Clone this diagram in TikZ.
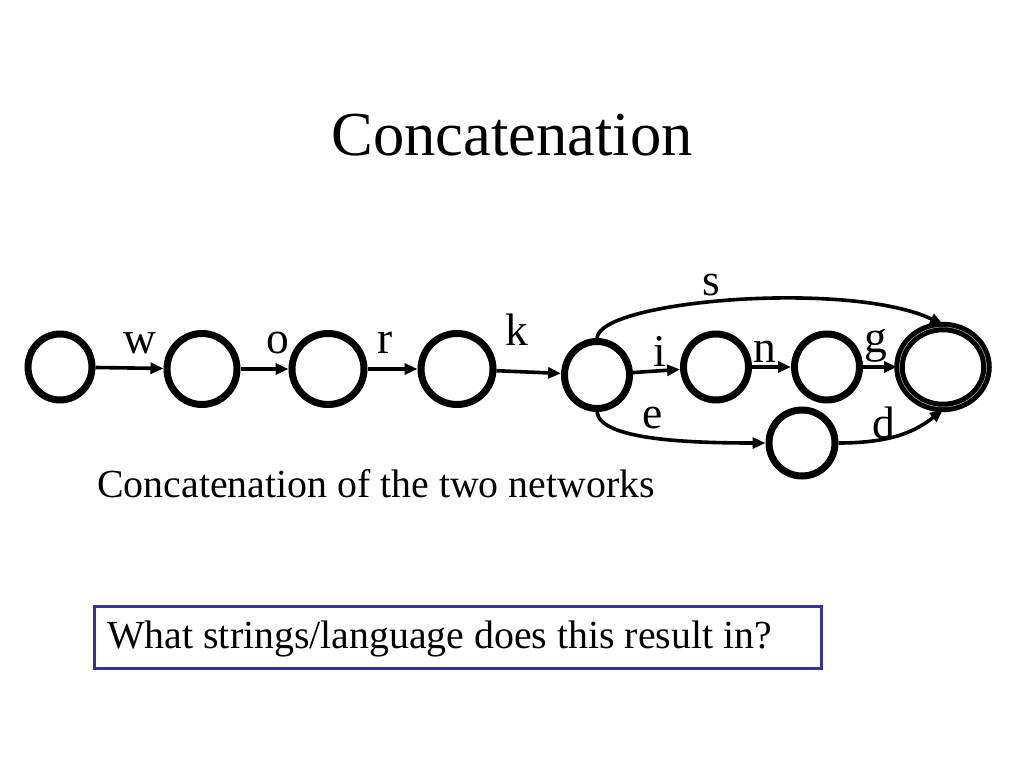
\documentclass[tikz,border=0pt]{standalone}
\usepackage{fontspec}
\setmainfont{Liberation Serif}
\usetikzlibrary{shapes.geometric,arrows.meta}
\definecolor{boxblue}{RGB}{51,51,153}
\newcommand{\pxu}{0.703125pt}
\tikzset{
  st/.style args={#1/#2}{ellipse, draw, line width=7*\pxu, minimum width=#1*\pxu, minimum height=#2*\pxu, inner sep=0pt},
  fin/.style args={#1/#2}{ellipse, draw, double=black!30, double distance=0.5*\pxu, line width=5*\pxu, minimum width=#1*\pxu, minimum height=#2*\pxu, inner sep=0pt},
  edge/.style={line width=3.6*\pxu, -{Triangle[length=13*\pxu,width=11*\pxu]}},
  lab/.style={font=\fontsize{32}{36}\selectfont, anchor=base, inner sep=0pt},
}
\begin{document}
\begin{tikzpicture}[x=\pxu, y=-\pxu]
\useasboundingbox (0,0) rectangle (1024,768);
\node (title) [anchor=base, inner sep=0pt, font=\fontsize{44}{50}\selectfont] at (512,156) {Concatenation};
% states
\node (n1) [st=64/66] at (60,367) {};
\node (n2) [st=70/71] at (202,369) {};
\node (n3) [st=72/71] at (328,369) {};
\node (n4) [st=72/71] at (457,369) {};
\node (n5) [st=65/67] at (597,375) {};
\node (n6) [st=65/66] at (716,367) {};
\node (n7) [st=65/66] at (827,367) {};
\node (n8) [fin=87/80] at (943,367) {};
\node (n9) [st=66/66] at (802,443) {};
% edges
\draw[edge] (n1) -- (n2);
\draw[edge] (n2) -- (n3);
\draw[edge] (n3) -- (n4);
\draw[edge] (n4) -- (n5);
\draw[edge] (n5) -- (n6);
\draw[edge] (n6) -- (n7);
\draw[edge] (n7) -- (n8);
\draw[edge] (n5.north) .. controls (600,300) and (850,280) .. (n8.north);
\draw[edge] (n5.south) .. controls (600,440) and (690,443) .. (n9.west);
\draw[edge] (n9.east) .. controls (890,443) and (915,432) .. (n8.south);
% labels
\node (lw) [lab] at (140,353) {w};
\node (lo) [lab] at (278,353) {o};
\node (lr) [lab] at (385,353) {r};
\node (lk) [lab] at (517,345) {k};
\node (ls) [lab] at (711,295) {s};
\node (li) [lab] at (660,366) {i};
\node (ln) [lab] at (765,362) {n};
\node (lg) [lab] at (876,352) {g};
\node (le) [lab] at (653,428) {e};
\node (ld) [lab] at (884,438) {d};
% caption
\node (cap) [anchor=base west, inner sep=0pt, font=\fontsize{28}{32}\selectfont] at (97,497) {Concatenation of the two networks};
% question box
\node (box) [draw=boxblue, line width=3.2*\pxu, fill=white, anchor=north west, minimum width=727*\pxu, minimum height=62*\pxu, inner sep=0pt] at (93,605) {};
\node (q) [anchor=base west, inner sep=0pt, font=\fontsize{28}{32}\selectfont] at (107,648) {What strings/language does this result in?};
\end{tikzpicture}
\end{document}
